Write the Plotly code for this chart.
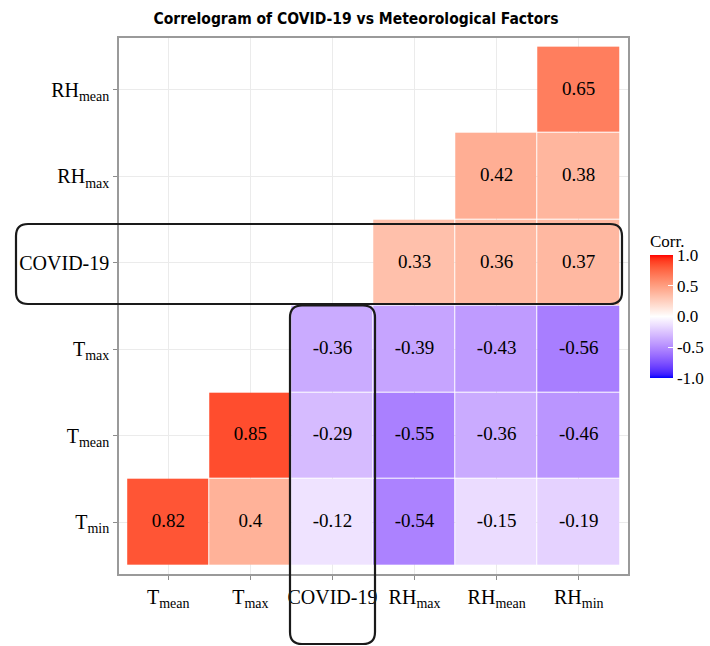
import plotly.graph_objects as go

# ---------------- data ----------------
x_labels = ["T<sub>mean</sub>", "T<sub>max</sub>", "COVID-19",
            "RH<sub>max</sub>", "RH<sub>mean</sub>", "RH<sub>min</sub>"]
y_labels = ["T<sub>min</sub>", "T<sub>mean</sub>", "T<sub>max</sub>",
            "COVID-19", "RH<sub>max</sub>", "RH<sub>mean</sub>"]

# rows from bottom (T_min) to top (RH_mean); None = empty cell
row_Tmin = [0.82, 0.4, -0.12, -0.54, -0.15, -0.19]
row_Tmean = [None, 0.85, -0.29, -0.55, -0.36, -0.46]
row_Tmax = [None, None, -0.36, -0.39, -0.43, -0.56]
row_COVID = [None, None, None, 0.33, 0.36, 0.37]
row_RHmax = [None, None, None, None, 0.42, 0.38]
row_RHmean = [None, None, None, None, None, 0.65]

z = [row_Tmin, row_Tmean, row_Tmax, row_COVID, row_RHmax, row_RHmean]

cbar_vals = [-1, -0.5, 0, 0.5, 1]
cbar_text = ["-1.0", "-0.5", "0.0", "0.5", "1.0"]

title_text = "Correlogram of COVID-19 vs Meteorological Factors"


# ------------- colour scale: ggplot gradient2 (Lab interpolation) -------------
def _lin(c):
    c = c / 255.0
    return c / 12.92 if c <= 0.04045 else ((c + 0.055) / 1.055) ** 2.4


def _delin(c):
    v = 12.92 * c if c <= 0.0031308 else 1.055 * c ** (1 / 2.4) - 0.055
    return max(0, min(255, round(v * 255)))


WHITE = (0.95047, 1.0, 1.08883)


def rgb2lab(rgb):
    r, g, b = (_lin(v) for v in rgb)
    X = 0.4124564 * r + 0.3575761 * g + 0.1804375 * b
    Y = 0.2126729 * r + 0.7151522 * g + 0.0721750 * b
    Z = 0.0193339 * r + 0.1191920 * g + 0.9503041 * b

    def f(t):
        return t ** (1 / 3) if t > 216 / 24389 else (24389 / 27 * t + 16) / 116

    fx, fy, fz = f(X / WHITE[0]), f(Y / WHITE[1]), f(Z / WHITE[2])
    return (116 * fy - 16, 500 * (fx - fy), 200 * (fy - fz))


def lab2rgb(lab):
    L, a, b = lab
    fy = (L + 16) / 116
    fx = fy + a / 500
    fz = fy - b / 200

    def finv(t):
        return t ** 3 if t ** 3 > 216 / 24389 else (116 * t - 16) / (24389 / 27)

    X, Y, Z = finv(fx) * WHITE[0], finv(fy) * WHITE[1], finv(fz) * WHITE[2]
    r = 3.2404542 * X - 1.5371385 * Y - 0.4985314 * Z
    g = -0.9692660 * X + 1.8760108 * Y + 0.0415560 * Z
    bb = 0.0556434 * X - 0.2040259 * Y + 1.0572252 * Z
    return tuple(_delin(max(0.0, min(1.0, v))) for v in (r, g, bb))


low, mid, high = rgb2lab((0, 0, 255)), rgb2lab((255, 255, 255)), rgb2lab((255, 0, 0))
colorscale = []
N = 40
for i in range(N + 1):
    t = i / N
    v = -1 + 2 * t
    if v < 0:
        s = -v
        lab = tuple(m + (l - m) * s for m, l in zip(mid, low))
    else:
        s = v
        lab = tuple(m + (h - m) * s for m, h in zip(mid, high))
    r, g, b = lab2rgb(lab)
    colorscale.append([t, f"rgb({r},{g},{b})"])


def fmt(v):
    return f"{v:g}"


SERIF = "Liberation Serif, Times New Roman, serif"

# plot area in pixels
L, R, T, B = 119, 628, 38, 574
W, H = 710, 646


def px(xp):
    return (xp - L) / (R - L)


def py(yp):
    return (B - yp) / (B - T)


fig = go.Figure()
fig.add_trace(go.Heatmap(
    z=z, x=list(range(len(x_labels))), y=list(range(len(y_labels))),
    zmin=-1, zmax=1, colorscale=colorscale,
    xgap=1, ygap=1,
    hoverongaps=False,
    colorbar=dict(
        title=dict(text="Corr.", side="top", font=dict(family=SERIF, size=17, color="black")),
        tickvals=cbar_vals, ticktext=cbar_text,
        tickfont=dict(family=SERIF, size=17, color="black"),
        ticks="inside", ticklen=5, tickcolor="white", tickwidth=1,
        outlinewidth=0, thickness=23,
        lenmode="pixels", len=147,
        x=px(650), xanchor="left", xpad=0,
        y=py(378), yanchor="bottom", ypad=0,
    ),
))

# cell labels
tx, ty, tt = [], [], []
for j, row in enumerate(z):
    for i, v in enumerate(row):
        if v is not None:
            tx.append(i)
            ty.append(j)
            tt.append(fmt(v))
fig.add_trace(go.Scatter(
    x=tx, y=ty, text=tt, mode="text",
    textfont=dict(family=SERIF, size=19, color="black"),
    hoverinfo="skip", showlegend=False,
))


def rounded_rect(x0, y0, x1, y1, r):
    pts = [
        ("M", [(x0 + r, y0)]),
        ("L", [(x1 - r, y0)]),
        ("Q", [(x1, y0), (x1, y0 + r)]),
        ("L", [(x1, y1 - r)]),
        ("Q", [(x1, y1), (x1 - r, y1)]),
        ("L", [(x0 + r, y1)]),
        ("Q", [(x0, y1), (x0, y1 - r)]),
        ("L", [(x0, y0 + r)]),
        ("Q", [(x0, y0), (x0 + r, y0)]),
    ]
    s = ""
    for cmd, ps in pts:
        s += cmd + " " + " ".join(f"{px(a):.5f},{py(b):.5f}" for a, b in ps) + " "
    return s + "Z"


shapes = [
    dict(type="path", xref="paper", yref="paper",
         path=rounded_rect(16, 224, 622, 304, 12),
         line=dict(color="#1a1a1a", width=2.2), fillcolor="rgba(0,0,0,0)", layer="above"),
    dict(type="path", xref="paper", yref="paper",
         path=rounded_rect(290, 305.5, 375, 644, 12),
         line=dict(color="#1a1a1a", width=2.2), fillcolor="rgba(0,0,0,0)", layer="above"),
]

axis_common = dict(
    showgrid=True, gridcolor="#EBEBEB", gridwidth=1, zeroline=False,
    ticks="outside", ticklen=4, tickcolor="#8c8c8c", tickwidth=1,
    showline=True, linecolor="#9a9a9a", linewidth=1.5, mirror=True,
    tickfont=dict(family=SERIF, size=20, color="black"),
    fixedrange=True,
)

fig.update_layout(
    width=W, height=H,
    margin=dict(l=L, r=W - R, t=T, b=H - B, autoexpand=False),
    paper_bgcolor="white", plot_bgcolor="white",
    title=dict(text=title_text, x=356 / W, xanchor="center", y=1 - 19 / H, yanchor="middle",
               font=dict(family="DejaVu Sans Condensed, Liberation Sans Narrow, DejaVu Sans", size=15.5,
                         color="black", weight="bold")),
    xaxis=dict(axis_common, tickvals=list(range(len(x_labels))), ticktext=x_labels, range=[-0.6, 5.6]),
    yaxis=dict(axis_common, tickvals=list(range(len(y_labels))), ticktext=y_labels, range=[-0.6, 5.6]),
    shapes=shapes,
)

fig.write_html("out.html")
